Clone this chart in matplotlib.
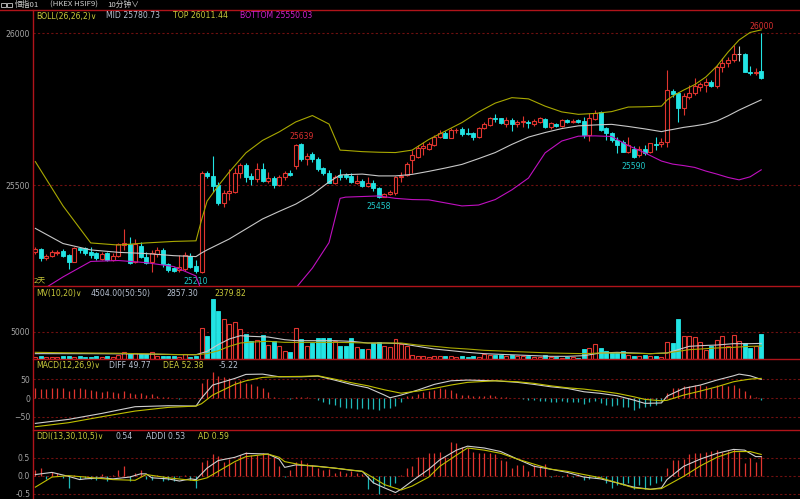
import matplotlib
matplotlib.use('Agg')
import matplotlib.pyplot as plt
from matplotlib.lines import Line2D
from matplotlib.patches import Rectangle
import numpy as np

# ---------------- data ----------------
OPEN = [25279,25288,25258,25266,25276,25283,25269,25247,25291,25293,
        25278,25275,25256,25277,25253,25267,25302,25305,25247,25299,
        25264,25245,25273,25286,25239,25226,25220,25222,25266,25233,
        25214,25539,25531,25500,25442,25475,25478,25539,25566,25530,
        25520,25552,25513,25524,25500,25527,25541,25563,25635,25585,
        25601,25585,25555,25541,25508,25533,25533,25530,25508,25513,
        25497,25508,25489,25460,25470,25473,25525,25533,25582,25593,
        25621,25619,25632,25659,25672,25656,25680,25684,25672,25670,
        25659,25687,25698,25722,25720,25700,25714,25700,25709,25709,
        25700,25707,25717,25692,25700,25696,25714,25707,25713,25712,
        25665,25718,25740,25687,25672,25648,25643,25610,25619,25599,
        25619,25610,25635,25634,25643,25810,25802,25753,25791,25802,
        25824,25830,25840,25826,25890,25901,25912,25931,25931,25873,
        25868,25877]
HIGH = [25295,25292,25272,25286,25286,25289,25272,25297,25297,25297,
        25295,25278,25278,25280,25275,25310,25355,25328,25321,25313,
        25280,25286,25295,25291,25244,25231,25269,25280,25275,25252,
        25546,25546,25596,25510,25484,25552,25555,25574,25574,25539,
        25572,25572,25544,25530,25533,25547,25550,25635,25639,25605,
        25610,25591,25560,25550,25533,25552,25539,25539,25533,25519,
        25525,25517,25493,25475,25484,25530,25544,25577,25615,25632,
        25643,25643,25665,25681,25678,25687,25689,25692,25689,25675,
        25692,25709,25725,25733,25722,25725,25720,25714,25728,25714,
        25718,25725,25720,25709,25703,25718,25718,25718,25717,25725,
        25736,25747,25744,25692,25676,25659,25648,25659,25627,25627,
        25632,25640,25659,25655,25879,25816,25808,25802,25830,25852,
        25839,25852,25846,25896,25918,25923,25961,25959,25934,25893,
        25885,26000]
LOW = [25273,25251,25253,25262,25269,25264,25223,25245,25275,25270,
       25258,25253,25253,25251,25251,25264,25286,25240,25242,25258,
       25240,25214,25264,25231,25214,25212,25214,25217,25226,25210,
       25211,25523,25478,25434,25427,25450,25475,25522,25511,25500,
       25511,25509,25506,25489,25497,25517,25530,25552,25580,25566,
       25577,25547,25533,25506,25503,25517,25519,25506,25503,25494,
       25493,25481,25458,25459,25467,25467,25511,25530,25541,25590,
       25599,25615,25630,25656,25654,25654,25671,25663,25665,25648,
       25654,25684,25695,25709,25700,25692,25678,25692,25692,25687,
       25696,25703,25687,25685,25692,25692,25703,25703,25705,25656,
       25645,25714,25678,25648,25643,25607,25609,25604,25590,25593,
       25599,25604,25615,25626,25626,25790,25707,25731,25784,25797,
       25810,25807,25824,25821,25873,25890,25906,25909,25873,25863,
       25863,25849]
CLOSE = [25289,25258,25267,25280,25278,25267,25247,25291,25286,25275,
         25269,25258,25273,25253,25267,25305,25310,25244,25305,25264,
         25244,25275,25286,25239,25220,25218,25231,25269,25231,25218,
         25539,25531,25498,25442,25475,25480,25541,25566,25527,25520,
         25552,25513,25524,25500,25527,25541,25533,25632,25585,25596,
         25585,25552,25539,25508,25527,25527,25527,25511,25513,25497,
         25508,25489,25460,25470,25478,25525,25530,25569,25599,25621,
         25630,25634,25659,25672,25656,25681,25682,25667,25669,25659,
         25687,25700,25722,25718,25703,25714,25700,25709,25711,25704,
         25711,25720,25690,25703,25696,25714,25707,25711,25709,25665,
         25720,25738,25681,25670,25648,25632,25610,25632,25593,25619,
         25605,25637,25631,25643,25813,25800,25753,25794,25802,25826,
         25832,25839,25826,25890,25901,25912,25931,25931,25873,25868,
         25872,25854]
VOLUME = [370,610,300,370,300,490,490,370,490,370,
          430,490,370,490,430,670,1280,980,1100,980,
          980,1280,610,610,610,550,430,900,430,550,
          5680,4270,10990,8850,7330,6410,6720,5500,4640,3360,
          3540,4460,2630,3360,2440,1530,1280,5680,3660,2320,
          2930,3790,3790,3790,3360,2440,2440,3790,2140,1830,
          1830,2930,3180,2320,2140,3660,2810,2440,670,610,
          610,370,490,490,490,610,370,610,370,490,
          370,980,730,790,790,610,790,490,490,490,
          370,370,730,370,370,240,370,370,240,1830,
          2020,2810,2020,1530,1340,1220,1400,790,610,610,
          730,490,490,370,3050,2930,7330,4150,4150,4030,
          3050,1710,2320,3540,4270,2320,4460,3360,2930,2020,
          2320,4504]

BOLL_IDX = [0,5,10,15,20,25,29,30,31,33,35,38,41,44,47,50,53,55,56,59,
            62,65,68,71,74,77,80,83,86,89,92,95,98,101,104,107,110,113,114,115,
            117,119,121,123,125,127,129,131]
BOLL_TOP = [25577,25431,25309,25302,25309,25314,25316,25385,25447,25497,
            25543,25606,25647,25675,25708,25729,25701,25615,25614,25610,
            25608,25607,25615,25650,25678,25706,25741,25770,25788,25784,
            25760,25741,25733,25736,25742,25757,25758,25760,25780,25793,
            25813,25831,25856,25892,25938,25978,26003,26011.44]
BOLL_MID = [25357,25307,25286,25278,25274,25267,25264,25276,25286,25304,
            25322,25355,25388,25413,25437,25469,25510,25533,25534,25536,
            25530,25530,25535,25545,25556,25568,25587,25607,25634,25658,
            25673,25686,25695,25698,25700,25693,25685,25676,25680,25683,
            25690,25695,25701,25711,25728,25747,25764,25780.73]
BOLL_BOT = [25140,25197,25248,25251,25244,25231,25200,25150,25120,25100,
            25085,25075,25080,25100,25160,25226,25310,25456,25460,25462,
            25464,25456,25452,25451,25441,25431,25434,25452,25484,25523,
            25606,25645,25661,25662,25660,25630,25606,25579,25574,25569,
            25564,25558,25546,25536,25525,25517,25527,25550.03]

MV_IDX = [0,5,10,15,20,25,29,31,33,35,37,39,42,45,47,51,54,57,60,63,
          66,69,72,75,78,81,84,87,90,93,96,99,102,105,108,111,114,116,118,120,
          123,126,129,131]
MV10 = [980,980,980,950,900,820,790,1400,2630,3660,
        4270,4150,4030,3540,3360,3360,3360,3240,2930,2930,
        2810,2320,1830,1530,1220,980,850,730,610,490,
        490,610,1100,1220,1100,980,1100,1710,2320,2440,
        2560,2810,2810,2857.30]
MV20 = [1220,1150,1100,1050,950,820,790,980,1500,2320,
        2930,3100,3240,3050,3050,3050,3050,3000,2930,2930,
        2930,2560,2320,2020,1830,1590,1470,1340,1220,1100,
        1040,980,1100,1100,1050,980,1100,1400,1710,1830,
        2020,2140,2320,2379.82]

MACD_IDX = [0,6,12,18,24,29,30,32,36,38,41,44,48,51,54,57,60,63,64,66,
            69,72,75,78,83,87,90,93,96,99,102,105,108,110,113,114,117,120,123,126,
            127,129,131]
DIFF = [-67.4,-56.7,-40.8,-23,-20.4,-21.3,0,34.6,52.3,63,
        63.8,56.7,56.7,58.5,47.9,36.4,27.4,8,0.8,8,
        21.3,36.4,46,47.9,46,41.8,36.4,30.1,25.8,16.8,
        12.5,6.1,-5.3,-14.1,-13,5,25.8,34.6,47.9,59.3,
        63.8,59.3,49.77]
DEA = [-76.3,-65.6,-49.7,-34.6,-24.8,-21.3,-15,8,36.4,46,
       55,57,57.7,59.3,50.5,41,32.7,22,19,13,
       18.6,25.8,34.6,41.8,46,43.4,39.1,32.7,27.4,23.9,
       18.6,12.5,3.5,-3.5,-7.2,-6,8,18.6,30.1,43.4,
       46,50.5,52.38]
MACD_HIST = [25.7,24,23,25.7,27.5,25.7,19.5,24,25.7,23,
             21.3,19.5,16.9,19.5,15.1,12.4,18.6,12.4,10.6,12.4,
             8,9.8,5.3,3.5,1.8,0.9,-1.8,0.9,-0.9,-0.9,
             39,50.6,68.3,59.4,55,52.3,46.1,47.9,39,36.4,
             32.8,25.7,15.1,3.5,0.9,0.5,-2.7,2.7,3.5,2.7,
             0.9,-5.3,-11.5,-16.9,-18.6,-23,-25.7,-27.5,-29.3,-27.5,
             -30.2,-29.3,-31.9,-27.5,-25.7,-20.4,-10.6,4.4,4.4,10.6,
             15.9,19.5,22.2,26.6,24.8,22.2,13.3,8.9,7.1,4.4,
             5.3,5.3,7.1,4.4,2.7,1.8,0.9,0.4,-3.5,-5.3,
             -6.2,-7.1,-8.9,-10.6,-10.6,-8.9,-11.5,-10.6,-10.6,-16,
             -11.5,-8.9,-13.3,-17.7,-22.2,-17.7,-23.9,-24.8,-31,-26.6,
             -24.8,-22.2,-17.7,-8.9,13.3,26.6,26.6,31,31,33.7,
             33.7,31,26.6,33.7,33.7,31,33.7,26.6,17.7,8.9,
             2.7,-5.22]

DDI = [0.16,0.21,-0.09,0.09,0.07,-0.06,-0.34,0.03,-0.09,-0.06,
       -0.09,-0.11,0.05,-0.15,0.03,0.15,0.26,-0.15,0.07,0.15,
       -0.09,-0.11,0.03,-0.15,-0.13,-0.15,-0.04,0.03,-0.13,-0.34,
       0.39,0.44,0.60,0.55,0.39,0.46,0.39,0.57,0.67,0.57,
       0.57,0.62,0.60,0.51,0.26,-0.04,0.15,0.39,0.44,0.35,
       0.30,0.21,0.15,0.18,0.07,0.12,0.07,0.12,0.07,0.05,
       -0.36,-0.20,-0.52,-0.29,-0.29,-0.20,0.03,0.21,0.26,0.53,
       0.53,0.62,0.62,0.67,0.53,0.94,0.91,0.80,0.78,0.67,
       0.62,0.62,0.62,0.59,0.44,0.41,0.21,0.30,0.30,0.12,
       0.30,0.26,0.33,-0.04,0.03,-0.04,0.05,-0.04,0.05,-0.11,
       -0.09,-0.06,-0.04,-0.20,-0.34,-0.25,-0.25,-0.20,-0.38,-0.25,
       -0.36,-0.25,-0.20,-0.15,0.21,0.44,0.44,0.46,0.59,0.62,
       0.62,0.67,0.68,0.71,0.67,0.68,0.73,0.67,0.35,0.48,
       0.39,0.54]
ADDI_IDX = [0,1,3,6,8,9,12,14,17,19,20,21,24,26,28,29,31,33,36,38,
            42,44,45,47,51,54,57,59,61,63,65,66,68,71,73,76,78,81,84,87,
            90,93,96,99,102,105,108,111,113,114,117,120,123,126,128,130,131]
ADDI = [0.03,0.05,0.09,-0.02,-0.11,-0.09,-0.06,-0.09,-0.04,0.05,
        0.05,-0.06,-0.09,-0.15,-0.09,-0.11,0.21,0.42,0.51,0.62,
        0.60,0.46,0.23,0.30,0.26,0.21,0.15,0.12,-0.20,-0.34,
        -0.47,-0.38,-0.15,0.18,0.44,0.71,0.82,0.77,0.67,0.46,
        0.26,0.18,0.09,-0.04,-0.09,-0.20,-0.32,-0.38,-0.34,-0.11,
        0.26,0.46,0.62,0.73,0.71,0.53,0.53]
AD_IDX = [0,3,6,9,14,18,20,24,27,29,31,33,36,38,42,44,45,48,54,59,
          61,63,66,68,71,73,76,78,81,84,87,90,93,96,99,102,105,108,111,113,
          117,120,123,126,129,131]
AD = [-0.32,-0.04,0.0,-0.04,-0.11,-0.13,0.03,-0.06,-0.11,-0.14,
      -0.06,0.12,0.39,0.53,0.60,0.51,0.39,0.30,0.21,0.12,
      -0.06,-0.25,-0.40,-0.29,-0.04,0.26,0.57,0.77,0.71,0.62,
      0.46,0.32,0.18,0.12,0.03,-0.06,-0.20,-0.34,-0.38,-0.36,
      -0.02,0.27,0.51,0.67,0.67,0.59]

HIGH_MARKS = [48, 131]
LOW_MARKS = [29, 62, 108]

MAIN_TICKS = [25500, 26000]
VOL_TICKS = [5000]
MACD_TICKS = [-50, 0, 50]
DDI_TICKS = [-0.5, 0.0, 0.5]
DDI_TICKLABELS = ['-0.5', '0.0', '0.5']

# ---------------- style ----------------
BG = 'black'
FRAME = '#b0141a'
GRID = '#6e1010'
TICKC = '#a4a4a4'
UP = '#e0352f'
DN = '#22e4e4'
DOJI = '#c8c8c8'
OLIVE = '#a8a800'
WHITE_L = '#c8c8c8'
MAG = '#c010c0'
HEAD_Y = '#c8c83a'
HEAD_W = '#b8c2d2'
HEAD_M = '#d020d0'
FS = 5.6

W, H = 800, 499
fig = plt.figure(figsize=(8, 4.99), dpi=100, facecolor=BG)

LEFT = 33


def rect(y0, y1):
    return [LEFT / W, 1 - y1 / H, (W - LEFT) / W, (y1 - y0) / H]


XLIM = (-0.42, 138.0)

ax_main = fig.add_axes(rect(10, 286))
ax_vol = fig.add_axes(rect(286, 359))
ax_macd = fig.add_axes(rect(359, 430))
ax_ddi = fig.add_axes(rect(430, 499))

for ax, ticks in [(ax_main, MAIN_TICKS), (ax_vol, VOL_TICKS), (ax_macd, MACD_TICKS), (ax_ddi, DDI_TICKS)]:
    ax.set_facecolor(BG)
    ax.set_xlim(*XLIM)
    for s in ax.spines.values():
        s.set_visible(False)
    ax.set_xticks([])
    ax.set_yticks(ticks)
    ax.tick_params(axis='y', length=0, pad=2, labelsize=FS, labelcolor=TICKC)
    for t in ticks:
        ax.axhline(t, color=GRID, lw=0.8, ls=(0, (2, 2)), zorder=0)

ax_main.set_ylim(25167, 26077)
ax_vol.set_ylim(0, 13374)
ax_macd.set_ylim(-85, 104)
ax_ddi.set_ylim(-0.65, 1.27)
ax_ddi.set_yticklabels(DDI_TICKLABELS)

o = np.array(OPEN, float)
h = np.array(HIGH, float)
l = np.array(LOW, float)
c = np.array(CLOSE, float)
idx = np.arange(len(o))
up = c > o
dn = c < o
eq = c == o
cols = np.where(up, UP, np.where(dn, DN, DOJI))
BW = 0.72

# candles
ax_main.vlines(idx, l, h, colors=cols, lw=0.8, zorder=2)
bb = np.minimum(o, c)
bh = np.abs(c - o)
ax_main.bar(idx[up], bh[up], bottom=bb[up], width=BW, facecolor=BG, edgecolor=UP, lw=0.8, zorder=3)
ax_main.bar(idx[dn], bh[dn], bottom=bb[dn], width=BW, facecolor=DN, edgecolor=DN, lw=0.6, zorder=3)
ax_main.hlines(c[eq], idx[eq] - BW / 2, idx[eq] + BW / 2, colors=DOJI, lw=0.8, zorder=3)

# Bollinger
ax_main.plot(BOLL_IDX, BOLL_TOP, color=OLIVE, lw=0.8, zorder=4)
ax_main.plot(BOLL_IDX, BOLL_MID, color=WHITE_L, lw=0.8, zorder=4)
ax_main.plot(BOLL_IDX, BOLL_BOT, color=MAG, lw=0.8, zorder=4)

# extreme labels
for i in HIGH_MARKS:
    ax_main.annotate(f"{int(h[i])}", (i, h[i]), xytext=(0, 1.5), textcoords='offset points',
                     ha='center', va='bottom', color='#d83030', fontsize=FS, annotation_clip=False)
for i in LOW_MARKS:
    ax_main.annotate(f"{int(l[i])}", (i, l[i]), xytext=(0, -3), textcoords='offset points',
                     ha='center', va='top', color='#20c8c8', fontsize=FS, annotation_clip=False)

# volume
vol = np.array(VOLUME, float)
vup = ~dn
ax_vol.bar(idx[vup], vol[vup], width=BW, facecolor=BG, edgecolor=UP, lw=0.8, zorder=2)
ax_vol.bar(idx[dn], vol[dn], width=BW, facecolor=DN, edgecolor=DN, lw=0.6, zorder=2)
ax_vol.plot(MV_IDX, MV10, color=WHITE_L, lw=0.8, zorder=3)
ax_vol.plot(MV_IDX, MV20, color=OLIVE, lw=0.8, zorder=3)

# MACD
mh = np.array(MACD_HIST, float)
ax_macd.vlines(idx, 0, mh, colors=np.where(mh >= 0, UP, '#1fb8b8'), lw=0.9, zorder=2)
ax_macd.plot(MACD_IDX, DIFF, color='#d0d0d0', lw=0.8, zorder=3)
ax_macd.plot(MACD_IDX, DEA, color='#c0c000', lw=0.8, zorder=3)

# DDI
dd = np.array(DDI, float)
ax_ddi.vlines(idx, 0, dd, colors=np.where(dd >= 0, UP, '#1fb8b8'), lw=0.9, zorder=2)
ax_ddi.plot(ADDI_IDX, ADDI, color='#d0d0d0', lw=0.8, zorder=3)
ax_ddi.plot(AD_IDX, AD, color='#c0c000', lw=0.8, zorder=3)

# frame lines


def fline(x0, y0, x1, y1, **kw):
    fig.add_artist(Line2D([x0 / W, x1 / W], [1 - y0 / H, 1 - y1 / H], transform=fig.transFigure,
                          color=FRAME, lw=1.0, **kw))


fline(0, 10, W, 10)
fline(LEFT, 10, LEFT, H)
for yy in (286, 359, 430):
    fline(LEFT, yy, W, yy)


def ftext(x, y, s, color, family=None, **kw):
    kw2 = dict(fontsize=FS, color=color, va='center', ha='left')
    kw2.update(kw)
    if family:
        kw2['family'] = family
    fig.text(x / W, 1 - y / H, s, **kw2)


CJK = ['Noto Sans CJK SC', 'DejaVu Sans']
# title bar
for x0 in (1, 7):
    fig.add_artist(Rectangle((x0 / W, 1 - 7 / H), 4.5 / W, 4 / H, transform=fig.transFigure,
                             fill=False, ec='#c8c8c8', lw=0.6))
ftext(15, 5, '恒指01', '#d0d0d0', CJK)
ftext(50, 5, '(HKEX HSIF9)', '#d0d0d0', CJK)
ftext(107, 5, '10分钟∨', '#d0d0d0', CJK)

# headers
ftext(36, 16, 'BOLL(26,26,2)∨', HEAD_Y)
ftext(106, 16, 'MID 25780.73', HEAD_W)
ftext(173, 16, 'TOP 26011.44', HEAD_Y)
ftext(240.5, 16, 'BOTTOM 25550.03', HEAD_M)
ftext(34, 280, '2天', HEAD_Y, CJK)

ftext(36, 293.5, 'MV(10,20)∨', HEAD_Y)
ftext(90.7, 293.5, '4504.00(50:50)', HEAD_W)
ftext(166.7, 293.5, '2857.30', HEAD_W)
ftext(214, 293.5, '2379.82', HEAD_Y)

ftext(36, 365.7, 'MACD(12,26,9)∨', HEAD_Y)
ftext(109, 365.7, 'DIFF 49.77', HEAD_W)
ftext(162.7, 365.7, 'DEA 52.38', HEAD_Y)
ftext(218.3, 365.7, '-5.22', HEAD_W)

ftext(36, 436.7, 'DDI(13,30,10,5)∨', HEAD_Y)
ftext(115.7, 436.7, '0.54', HEAD_W)
ftext(145.7, 436.7, 'ADDI 0.53', HEAD_W)
ftext(197.7, 436.7, 'AD 0.59', HEAD_Y)

fig.savefig('out.png', dpi=100, facecolor=BG)
